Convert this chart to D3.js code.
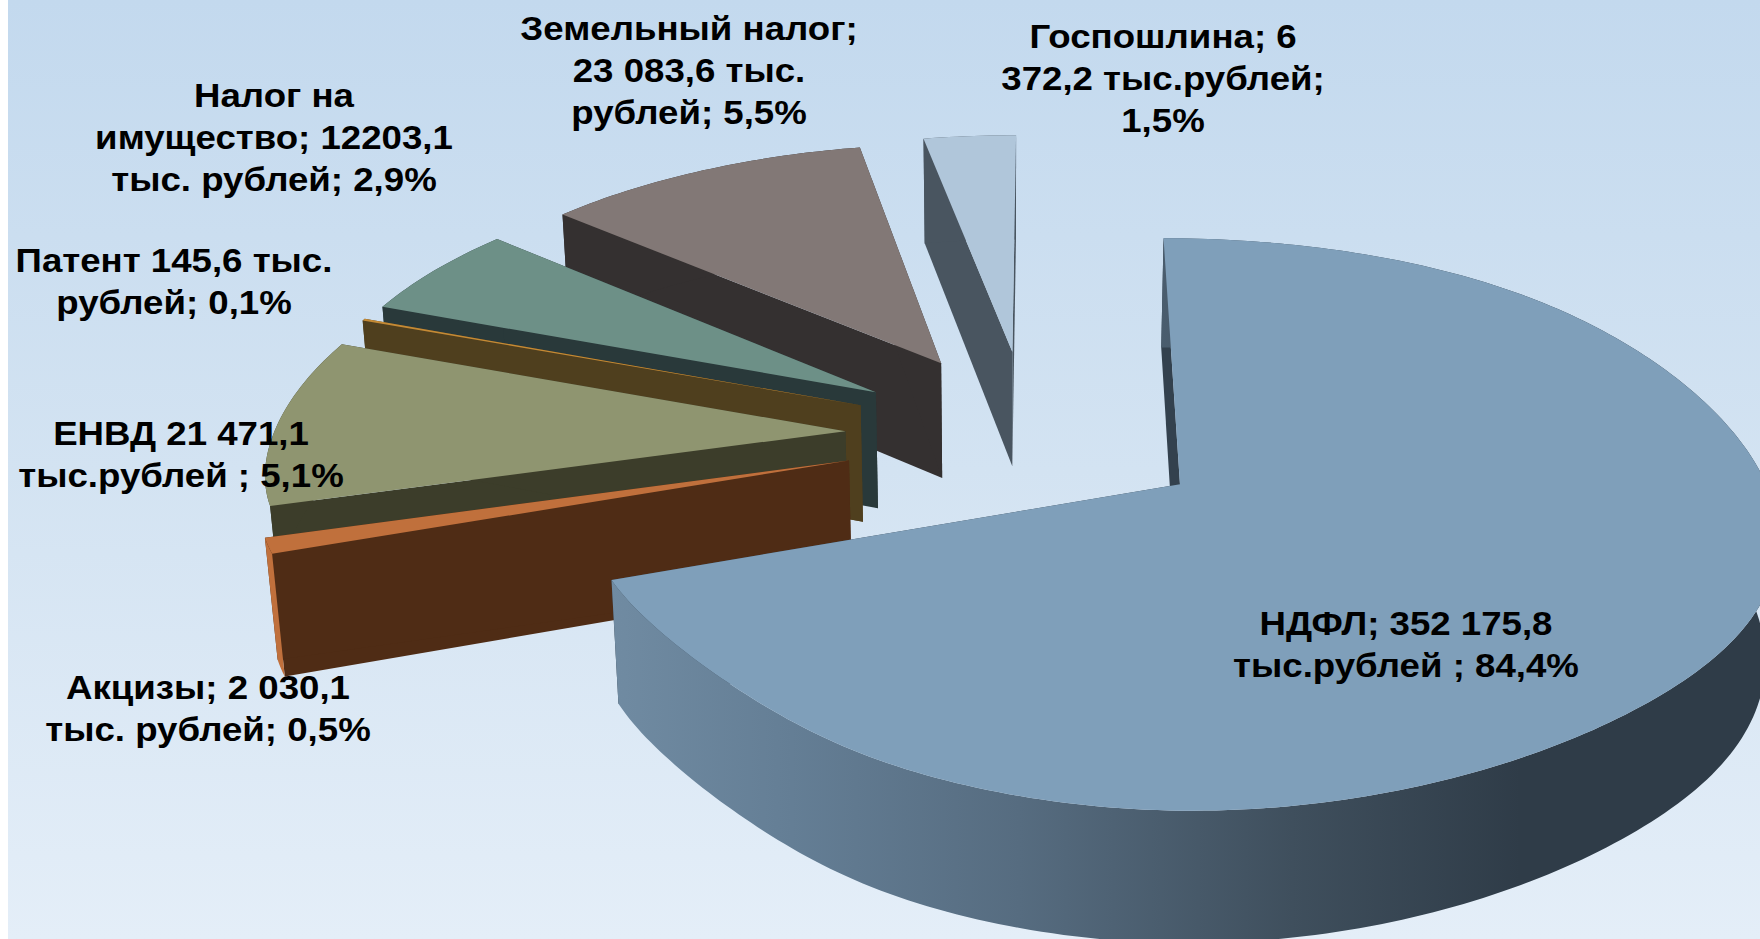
<!DOCTYPE html>
<html lang="ru"><head><meta charset="utf-8">
<script src="https://cdn.jsdelivr.net/npm/d3@7/dist/d3.min.js"></script>
<style>html,body{margin:0;padding:0;background:#fff;overflow:hidden}svg{display:block}
text{font-family:"Liberation Sans",Arial,sans-serif;font-weight:700;fill:#000}</style>
</head><body><svg id="c" width="1760" height="939"></svg>
<script>
// Chart data
const categories = ["НДФЛ","Акцизы","ЕНВД","Патент","Налог на имущество","Земельный налог","Госпошлина"];
const labelledValues = [352175.8,2030.1,21471.1,145.6,12203.1,23083.6,6372.2]; // тыс. рублей, as printed
const labelledPercents = [84.4,0.5,5.1,0.1,2.9,5.5,1.5];                       // as printed
// Share of the circle each slice actually occupies in the picture (%)
const drawnShares = [70.2,0.95,9.85,0.12,5.4,10.45,3.05];
const labelLines = [
  ["НДФЛ; 352 175,8","тыс.рублей ; 84,4%"],
  ["Акцизы; 2 030,1","тыс. рублей; 0,5%"],
  ["ЕНВД 21 471,1","тыс.рублей ; 5,1%"],
  ["Патент 145,6 тыс.","рублей; 0,1%"],
  ["Налог на","имущество; 12203,1","тыс. рублей; 2,9%"],
  ["Земельный налог;","23 083,6 тыс.","рублей; 5,5%"],
  ["Госпошлина; 6","372,2 тыс.рублей;","1,5%"]
];
const topColors  = ["#7f9fba","#c0703c","#8f9570","#c58a35","#6d9087","#827876","#b0c6da"];
const wallColors = ["#33414e","#4f2c15","#3c3d2a","#4f3f1e","#29393a","#343030","#495560"];
const rimColors  = ["url(#rimGrad)","#c0703c","#3c3d2a","#4f3f1e","#29393a","#343030","#495560"];
// The rim in the picture is not a true circle: radius read every 15 degrees clockwise from the top
const rimRadii  = [1,.995,.994,.99,.985,.992,1.012,1.03,1.03,1.012,1.005,1.007,1.008,.995,.98,.955,.965,1.005,1.012,1.018,1.026,1.026,1.02,1.012];

// Layout
const W=1760,H=939;
const labelX=[1406,208,181,174,274,689,1163];
const labelY=[635,699,445,272,107,40,48];
const lineGap=42, fontSize=33, textStretch=1.11;
const firstAngle=-1.9, explode=0.325, pieCenter=[-0.275,-0.19];
// perspective of the pie plane
const view={ax:1184,ay:486,a:580,b:280,k:0.138,c:0.017,d:122,e:-3};
function project(U,V,z){
  const w=1-view.k*V+view.c*z;
  return [view.ax+(view.a*U+view.e*z)/w, view.ay+(view.b*V+view.d*z)/w];
}
const rad=d3.scaleLinear().domain([0,180]).range([0,Math.PI]);
const rimShape=d3.interpolateBasisClosed(rimRadii);
const radiusAt=t=>rimShape(((t/(2*Math.PI))%1+1)%1);
const pie=d3.pie().sort(null).value(d=>d).startAngle(rad(firstAngle)).endAngle(rad(firstAngle+360));
const arcs=pie(drawnShares);
const svg=d3.select("#c");
const defs=svg.append("defs");
const bg=defs.append("linearGradient").attr("id","bgGrad").attr("x1",0).attr("y1",0).attr("x2",0).attr("y2",1);
[[0,"#c3d9ee"],[.5,"#d3e3f2"],[1,"#e4eef8"]].forEach(s=>bg.append("stop").attr("offset",s[0]).attr("stop-color",s[1]));
const rg=defs.append("linearGradient").attr("id","rimGrad").attr("gradientUnits","userSpaceOnUse")
  .attr("x1",610).attr("y1",0).attr("x2",1520).attr("y2",0);
[[0,"#708ba2"],[.2,"#647e95"],[.45,"#566c80"],[.75,"#3f4f5d"],[1,"#2f3c48"]].forEach(s=>rg.append("stop").attr("offset",s[0]).attr("stop-color",s[1]));

svg.append("rect").attr("x",8).attr("y",0).attr("width",W-8).attr("height",H).attr("fill","url(#bgGrad)");

const line=d3.line();
const g=svg.append("g");
d3.range(arcs.length).reverse().forEach(i=>{
  const d=arcs[i];
  const mid=(d.startAngle+d.endAngle)/2;
  const cU=pieCenter[0]+explode*Math.sin(mid), cV=pieCenter[1]-explode*Math.cos(mid);
  const pt=(t,on,z)=>{const r=on?radiusAt(t):0;return project(cU+r*Math.sin(t),cV-r*Math.cos(t),z);};
  const n=Math.max(4,Math.ceil((d.endAngle-d.startAngle)/rad(1)));
  const ts=d3.range(n+1).map(j=>d.startAngle+(d.endAngle-d.startAngle)*j/n);
  const wall=t=>line([pt(t,0,0),pt(t,1,0),pt(t,1,1),pt(t,0,1)])+"Z";
  const s=g.append("g").attr("class","slice").datum(categories[i]);
  s.append("path").attr("d",wall(d.startAngle)).attr("fill",wallColors[i]);
  s.append("path").attr("d",wall(d.endAngle)).attr("fill",wallColors[i]);
  s.append("path").attr("d",line(ts.map(t=>pt(t,1,0)).concat(ts.slice().reverse().map(t=>pt(t,1,1))))+"Z").attr("fill",rimColors[i]);
  s.append("path").attr("d",line([pt(0,0,0)].concat(ts.map(t=>pt(t,1,0))))+"Z").attr("fill",topColors[i]);
});

const lab=svg.append("g");
labelLines.forEach((ls,i)=>{
  const t=lab.append("text").attr("text-anchor","middle").attr("font-size",fontSize)
    .attr("transform",`translate(${labelX[i]},${labelY[i]}) scale(${textStretch},1)`);
  ls.forEach((l,j)=>t.append("tspan").attr("x",0).attr("y",j*lineGap).text(l));
});
</script></body></html>
